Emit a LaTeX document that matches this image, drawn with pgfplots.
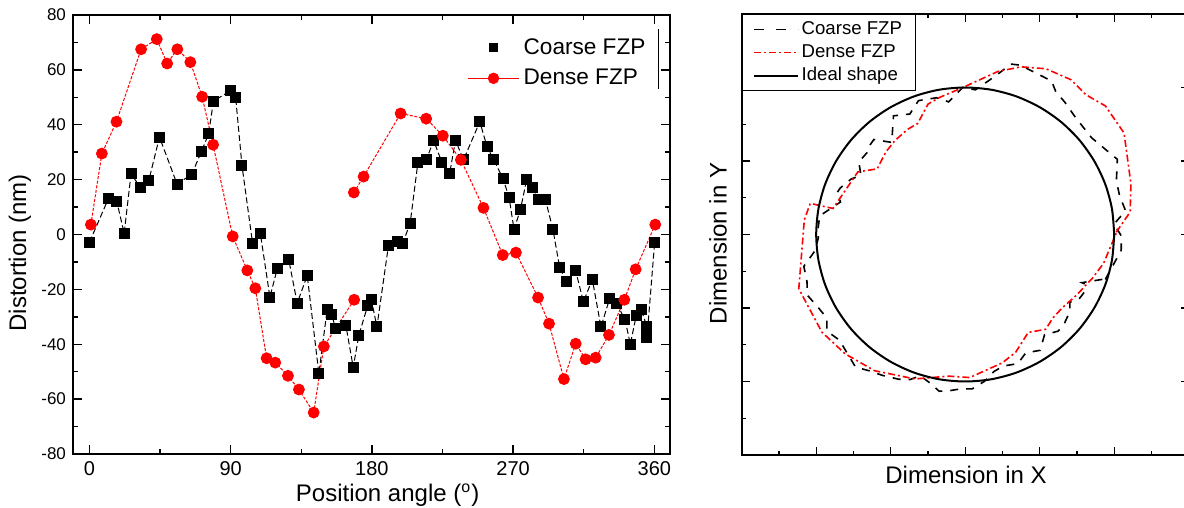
\documentclass[border=0pt]{standalone}
\usepackage{fontspec}
\setmainfont{Liberation Sans}
\usepackage{pgfplots}
\usepackage{pgfplotstable}
\pgfplotsset{compat=1.18}

% distortion vs position angle (deg, nm)
\pgfplotstableread{
a d
0 -2.8
12.1 13.1
17.4 12.1
22.1 0.4
26.5 22.1
32.3 17.3
37.8 19.6
44.6 35.5
55.8 18.4
65.2 21.9
71.3 30.2
76.0 36.7
79.0 48.6
90.2 52.5
93.2 49.8
97.2 25.1
104.0 -3.4
108.9 0.4
115.0 -22.8
119.7 -12.5
127.0 -9.2
132.4 -25.0
138.8 -15.0
146.2 -50.7
151.5 -27.3
154.3 -29.3
157.1 -34.3
163.4 -33.1
168.1 -48.4
171.7 -36.7
177.3 -26.0
179.6 -23.6
183.2 -33.6
190.6 -3.9
196.1 -2.7
199.5 -3.4
204.4 4.1
209.3 26.1
214.8 27.3
219.3 34.3
224.6 26.3
229.5 22.1
233.3 34.3
238.4 27.2
248.8 41.1
253.4 31.9
257.7 27.2
263.6 20.3
267.4 13.6
270.6 1.8
274.7 9.2
278.7 20.1
282.1 17.3
286.3 12.7
290.6 12.7
295.4 1.8
299.7 -12.1
304.0 -17.3
309.9 -13.3
314.8 -24.5
320.5 -16.4
326.0 -33.7
331.5 -23.4
335.8 -25.2
341.3 -30.9
344.7 -40.0
348.5 -29.5
351.7 -27.5
355.3 -33.6
355.3 -37.7
360.2 -3.0
}\coarse

\pgfplotstableread{
a d
0.9 3.6
7.9 29.5
17.2 41.1
32.9 67.5
42.9 71.2
49.5 62.3
56.0 67.5
64.3 62.8
71.8 50.2
78.8 32.7
91.3 -0.7
100.6 -13.1
105.7 -19.6
112.9 -45.1
118.4 -46.7
126.5 -51.5
133.5 -56.5
142.9 -64.9
149.4 -40.8
168.7 -23.8
168.5 15.3
174.7 21.1
198.3 44.1
214.6 42.2
225.2 36.0
236.7 27.2
251.1 9.7
263.4 -7.5
271.8 -6.6
285.9 -23.0
292.9 -32.5
302.4 -52.7
309.9 -39.8
316.2 -45.5
322.6 -44.9
331.1 -36.6
340.9 -23.8
348.1 -12.7
360.6 3.6
}\dense

% ideal shape, unit circle
\pgfplotstableread{
x y
1 0
0.985 0.174
0.940 0.342
0.866 0.5
0.766 0.643
0.643 0.766
0.5 0.866
0.342 0.940
0.174 0.985
0 1
-0.174 0.985
-0.342 0.940
-0.5 0.866
-0.643 0.766
-0.766 0.643
-0.866 0.5
-0.940 0.342
-0.985 0.174
-1 0
-0.985 -0.174
-0.940 -0.342
-0.866 -0.5
-0.766 -0.643
-0.643 -0.766
-0.5 -0.866
-0.342 -0.940
-0.174 -0.985
0 -1
0.174 -0.985
0.342 -0.940
0.5 -0.866
0.643 -0.766
0.766 -0.643
0.866 -0.5
0.940 -0.342
0.985 -0.174
1 0
}\ideal

\begin{document}
\begin{tikzpicture}
\path[use as bounding box] (-36.5pt,-27pt) rectangle (555.5pt,227pt);
\begin{axis}[
  at={(0pt,0pt)}, anchor=south west,
  scale only axis, width=298.5pt, height=219.5pt,
  xmin=-10.5, xmax=370, ymin=-80, ymax=80,
  xtick={0,90,180,270,360}, minor xtick={45,135,225,315},
  ytick={-80,-60,...,80}, minor ytick={-70,-50,...,70},
  tick align=inside,
  major tick length=4.5pt, minor tick length=2.5pt,
  axis line style={line width=0.8pt},
  tick style={black, line width=0.7pt},
  /pgf/number format/assume math mode=true,
  xticklabel style={font=\fontsize{10}{12}\selectfont},
  yticklabel style={font=\fontsize{8.5}{10}\selectfont},
  xlabel={Position angle (\textsuperscript{o})},
  ylabel={Distortion (nm)},
  label style={font=\fontsize{12}{14}\selectfont},
  xlabel style={at={(axis description cs:0.527,-0.093)}, anchor=center},
  ylabel style={at={(axis description cs:-0.089,0.458)}, anchor=center},
  legend style={at={(axis description cs:0.66,0.957)}, anchor=north west,
    draw=none, fill=none, inner sep=0pt, row sep=2pt,
    font=\fontsize{11.3}{13.5}\selectfont, nodes={inner sep=2pt}},
  legend cell align=left,
]
\addplot[black, line width=0.5pt, dash pattern=on 3pt off 1.5pt,
  mark=square*, mark size=2.5pt, mark options={solid},
  legend image code/.code={\fill[black, solid] (10.6pt,-2.1pt) rectangle (14.8pt,2.1pt);}]
  table[x=a, y=d] {\coarse};
\addlegendentry{Coarse FZP}
\addplot[red, line width=0.5pt, dash pattern=on 1.5pt off 0.8pt,
  mark=*, mark size=2.7pt, mark options={solid},
  x filter/.expression={\coordindex>19 ? nan : x},
  legend image code/.code={\draw[red, solid, line width=0.6pt] (0pt,0pt) -- (25.5pt,0pt);
    \fill[red, solid] (12.75pt,0pt) circle (2.6pt);}]
  table[x=a, y=d] {\dense};
\addlegendentry{Dense FZP}
\addplot[red, line width=0.5pt, dash pattern=on 1.5pt off 0.8pt,
  mark=*, mark size=2.7pt, mark options={solid},
  x filter/.expression={\coordindex<20 ? nan : x}, forget plot]
  table[x=a, y=d] {\dense};
\draw[black, line width=0.5pt] (rel axis cs:0.98,0.968) -- (rel axis cs:0.98,0.831);
\end{axis}

\begin{axis}[
  at={(334.35pt,-0.5pt)}, anchor=south west,
  scale only axis, width=223.5pt, height=220.5pt,
  xmin=-1.5, xmax=1.5, ymin=-1.5, ymax=1.5,
  xtick={-1,-0.5,...,1}, ytick={-1,-0.5,...,1},
  minor xtick={-1.25,-0.75,...,1.25}, minor ytick={-1.25,-0.75,...,1.25},
  xticklabels={}, yticklabels={},
  tick align=inside,
  major tick length=4pt, minor tick length=2pt,
  axis line style={line width=0.8pt},
  tick style={black, line width=0.7pt},
  xlabel={Dimension in X}, ylabel={Dimension in Y},
  label style={font=\fontsize{12}{14}\selectfont},
  xlabel style={at={(axis description cs:0.502,-0.045)}, anchor=center},
  ylabel style={at={(axis description cs:-0.053,0.48)}, anchor=center},
  legend style={at={(axis description cs:0,1)}, anchor=north west,
    draw=black, line width=0.6pt, fill=white, inner xsep=5.5pt, inner ysep=3pt,
    row sep=2.5pt, font=\fontsize{9.3}{11}\selectfont,
    nodes={inner xsep=1.2pt, inner ysep=0.5pt}},
  legend cell align=left,
]
\addplot[black, line width=0.8pt, dash pattern=on 4pt off 4pt,
  legend image code/.code={\draw[black, line width=0.8pt, dash pattern=on 5pt off 6pt] (0pt,0pt) -- (22pt,0pt);}]
  table[x expr={(1+0.004*\thisrow{d})*cos(\thisrow{a}-18)},
        y expr={(1+0.004*\thisrow{d})*sin(\thisrow{a}-18)}] {\coarse};
\addlegendentry{Coarse FZP}
\addplot[red, line width=0.8pt, dash pattern=on 3.5pt off 1.5pt on 1pt off 1.5pt,
  legend image code/.code={\draw[red, line width=0.9pt, dash pattern=on 3.5pt off 1.5pt on 1pt off 1.5pt] (0pt,0pt) -- (22pt,0pt);}]
  table[x expr={(1+0.004*\thisrow{d})*cos(\thisrow{a})},
        y expr={(1+0.004*\thisrow{d})*sin(\thisrow{a})}] {\dense};
\addlegendentry{Dense FZP}
\addplot[black, line width=1pt, smooth,
  legend image code/.code={\draw[black, line width=1pt] (0pt,0pt) -- (22pt,0pt);}]
  table[x=x, y=y] {\ideal};
\addlegendentry{Ideal shape}
\end{axis}
\end{tikzpicture}
\end{document}
